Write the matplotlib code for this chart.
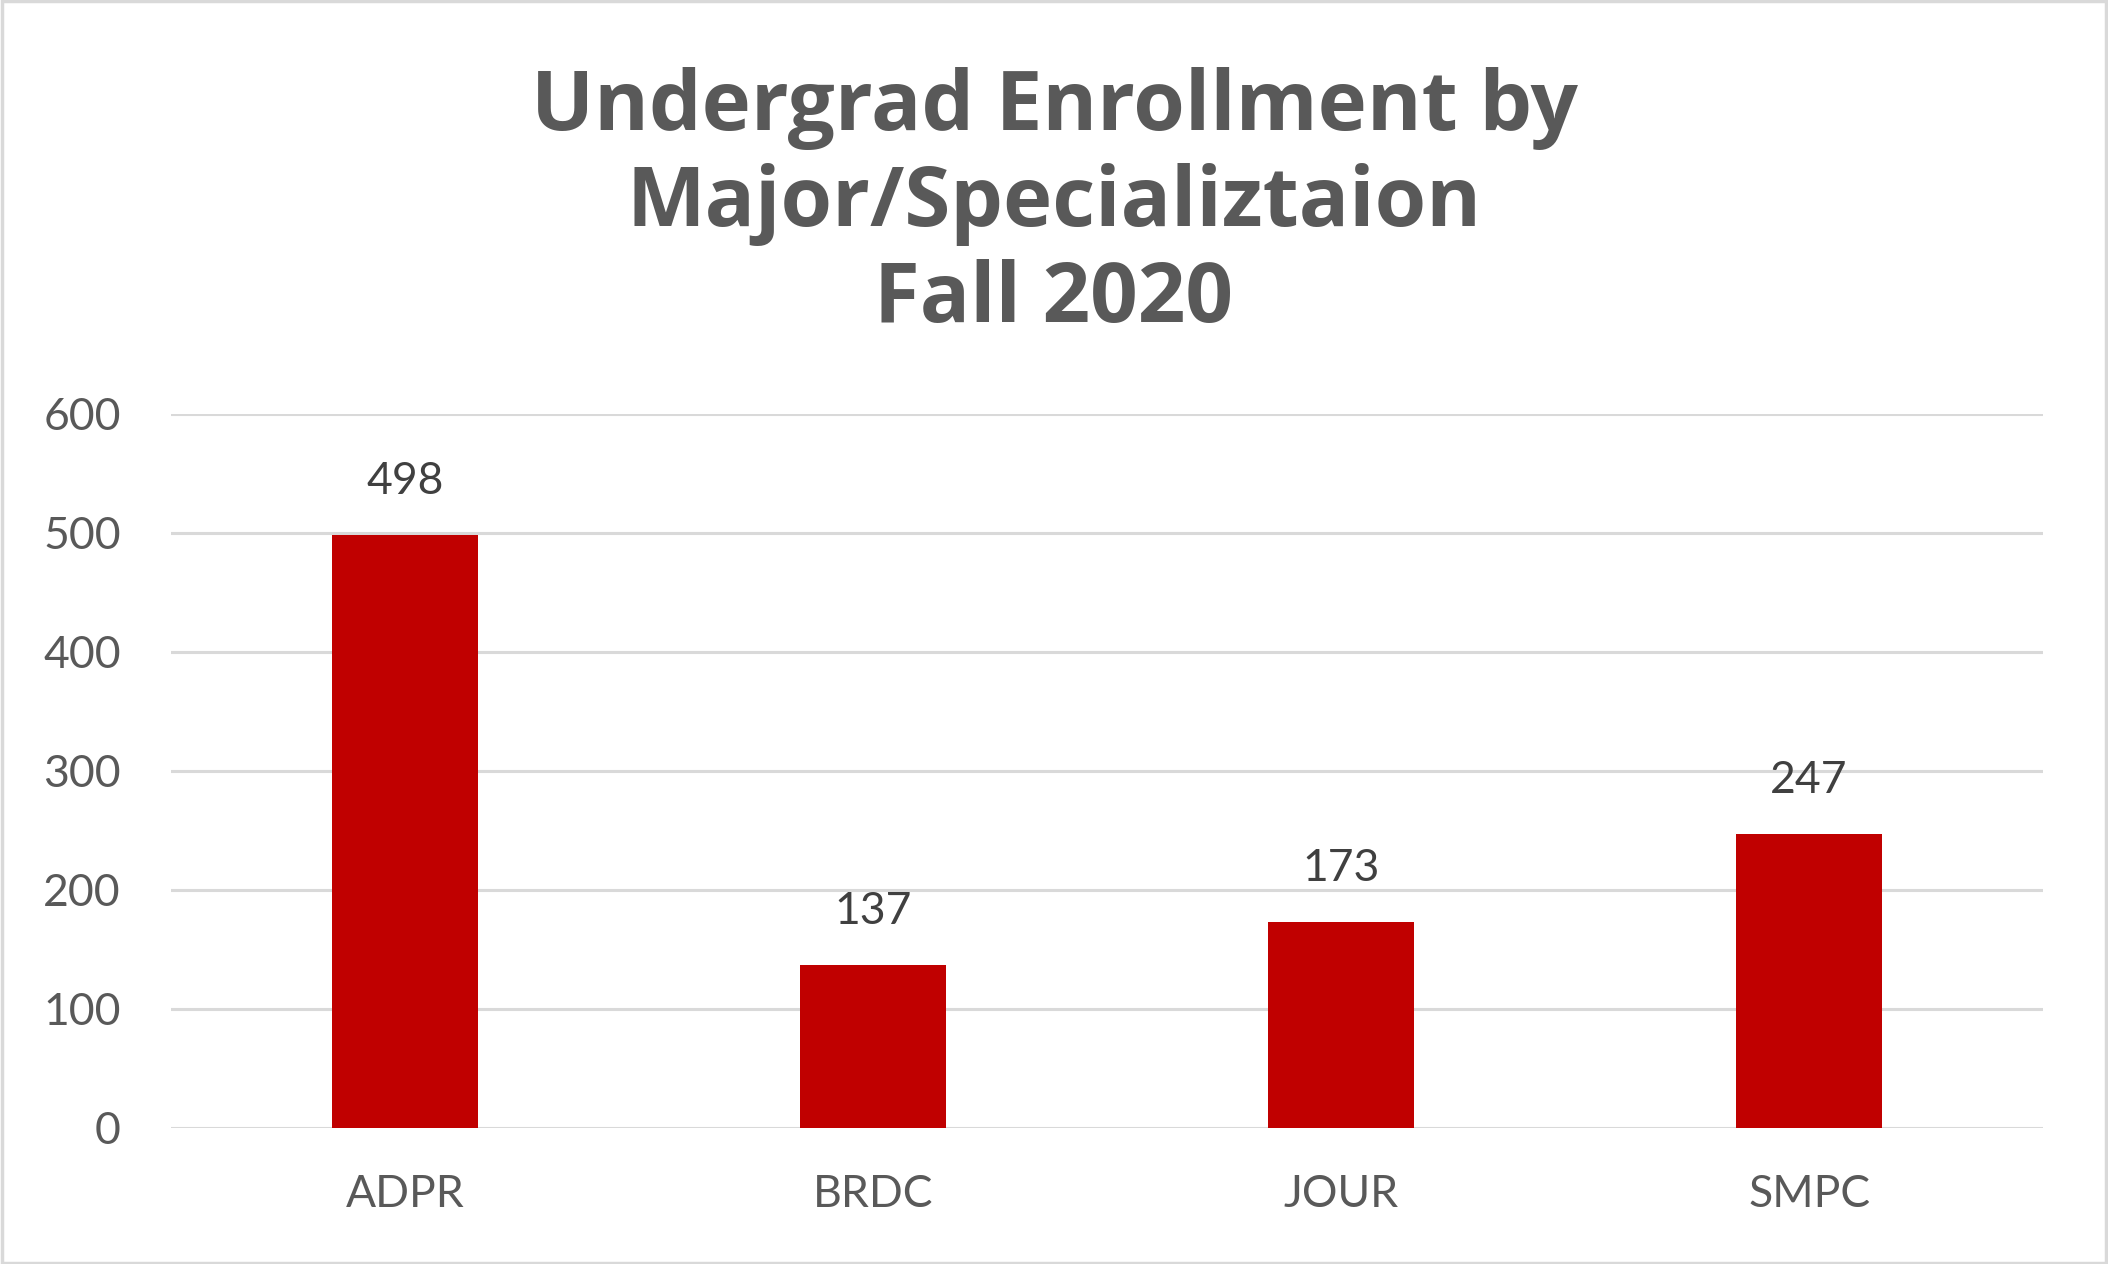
import matplotlib
matplotlib.use("Agg")
import matplotlib.pyplot as plt
from matplotlib.patches import Rectangle

# data
majors = ["ADPR", "BRDC", "JOUR", "SMPC"]
enrollment = [498, 137, 173, 247]
y_ticks = [0, 100, 200, 300, 400, 500, 600]

title = "Undergrad Enrollment by\nMajor/Specializtaion\nFall 2020"

fig = plt.figure(figsize=(21.08, 12.64), dpi=100)
fig.patch.set_facecolor("white")
ax = fig.add_axes([0.0811, 0.1076, 0.8881, 0.5649])

x = list(range(len(majors)))
bars = ax.bar(x, enrollment, width=0.312, color="#C00000", zorder=3)

ax.set_xlim(-0.5, len(majors) - 0.5)
ax.set_ylim(0, 600)
ax.set_yticks(y_ticks)
ax.set_xticks(x)
ax.set_xticklabels(majors)

for side in ["top", "right", "left", "bottom"]:
    ax.spines[side].set_visible(False)
ax.yaxis.grid(True, color="#D9D9D9", linewidth=2.2, zorder=0)
ax.tick_params(axis="both", length=0, labelsize=32, labelcolor="#595959")
ax.tick_params(axis="y", pad=36)
ax.tick_params(axis="x", pad=33)
for lab in ax.get_xticklabels() + ax.get_yticklabels():
    lab.set_family("Lato")

for b, v in zip(bars, enrollment):
    ax.annotate(str(v), (b.get_x() + b.get_width() / 2, v),
                xytext=(0, 24), textcoords="offset points",
                ha="center", va="bottom", fontsize=32, color="#404040",
                family="Lato")

fig.text(0.5, 0.838, title, ha="center", va="center", fontsize=60,
         fontweight="bold", color="#595959", family="Open Sans", linespacing=1.21)

# light grey frame around the whole chart
fig.patches.append(Rectangle((0.001, 0.001), 0.998, 0.998, transform=fig.transFigure,
                             fill=False, edgecolor="#D9D9D9", linewidth=2.5))

fig.savefig("out.png", dpi=100)
